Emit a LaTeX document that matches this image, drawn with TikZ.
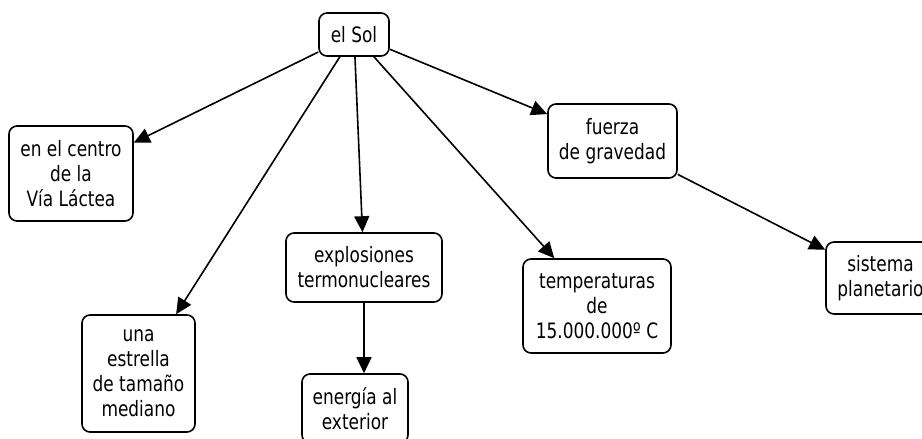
\documentclass[tikz,border=0pt]{standalone}
\usepackage{fontspec}
\setmainfont{DejaVu Sans}[FakeStretch=0.8]
\usetikzlibrary{arrows.meta}

\begin{document}
\begin{tikzpicture}[x=0.5pt,y=-0.5pt,
    concept/.style={draw,rounded corners=4pt,line width=0.8pt,align=center,inner sep=1pt,font=\conceptfontsize},
    link/.style={line width=0.8pt,-{Triangle[length=8pt,width=7.5pt]}}]
    \providecommand{\conceptfontsize}{\fontsize{10.6pt}{12.5pt}\selectfont}
    \pgfmathsetmacro{\picwidth}{922}  % same size as the original map
    \pgfmathsetmacro{\picheight}{439}
    \useasboundingbox (0,0) rectangle (\picwidth,\picheight);
    \node[concept,minimum width=35pt,minimum height=21.5pt] (sol) at (354,34.5) {el Sol};
    \node[concept,minimum width=62pt,minimum height=47.5pt] (centro) at (71,173.5) {en el centro\\de la\\Vía Láctea};
    \node[concept,minimum width=64.5pt,minimum height=37pt] (gravedad) at (612.5,141) {fuerza\\de gravedad};
    \node[concept,minimum width=78pt,minimum height=34.5pt] (explosiones) at (364,267.5) {explosiones\\termonucleares};
    \node[concept,minimum width=56.5pt,minimum height=58.5pt] (estrella) at (138.5,373.5) {una\\estrella\\de tamaño\\mediano};
    \node[concept,minimum width=53pt,minimum height=34.5pt] (energia) at (355,408.5) {energía al\\exterior};
    \node[concept,minimum width=74pt,minimum height=47pt] (temperaturas) at (597,306) {temperaturas\\de\\15.000.000º C};
    \node[concept,minimum width=54.5pt,minimum height=36pt] (sistema) at (880.5,278) {sistema\\planetario};
    \draw[link] (sol) -- (centro);
    \draw[link] (sol) -- (estrella);
    \draw[link] (sol) -- (explosiones);
    \draw[link] (sol) -- (temperaturas);
    \draw[link] (sol) -- (gravedad);
    \draw[link] (explosiones) -- (explosiones |- energia.north);
    \draw[link] (gravedad) -- (sistema);
\end{tikzpicture}
\end{document}
